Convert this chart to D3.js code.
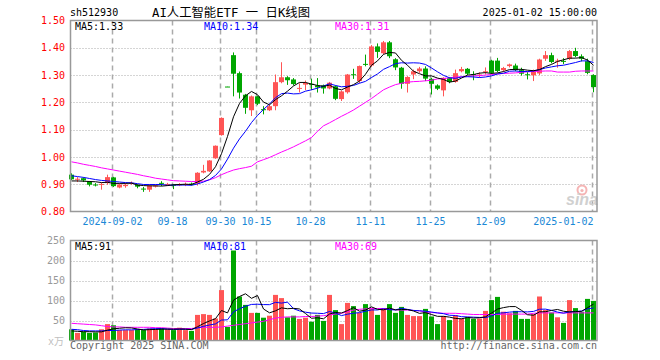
<!DOCTYPE html>
<html>
<head>
<meta charset="utf-8">
<script src="https://cdn.jsdelivr.net/npm/d3@7"></script>
<style>
  body { margin: 0; background: #fff; }
  text { font-family: "DejaVu Sans Mono", "Liberation Mono", monospace; font-size: 10px; }
</style>
</head>
<body>
<div id="chart"></div>
<script>
// trading days shown (2024-08-22 .. 2025-01-02)
var dates = ["2024-08-22","2024-08-23","2024-08-26","2024-08-27","2024-08-28","2024-08-29","2024-08-30",
  "2024-09-02","2024-09-03","2024-09-04","2024-09-05","2024-09-06","2024-09-09","2024-09-10","2024-09-11",
  "2024-09-12","2024-09-13","2024-09-18","2024-09-19","2024-09-20","2024-09-23","2024-09-24","2024-09-25",
  "2024-09-26","2024-09-27","2024-09-30","2024-10-08","2024-10-09","2024-10-10","2024-10-11","2024-10-14",
  "2024-10-15","2024-10-16","2024-10-17","2024-10-18","2024-10-21","2024-10-22","2024-10-23","2024-10-24",
  "2024-10-25","2024-10-28","2024-10-29","2024-10-30","2024-10-31","2024-11-01","2024-11-04","2024-11-05",
  "2024-11-06","2024-11-07","2024-11-08","2024-11-11","2024-11-12","2024-11-13","2024-11-14","2024-11-15",
  "2024-11-18","2024-11-19","2024-11-20","2024-11-21","2024-11-22","2024-11-25","2024-11-26","2024-11-27",
  "2024-11-28","2024-11-29","2024-12-02","2024-12-03","2024-12-04","2024-12-05","2024-12-06","2024-12-09",
  "2024-12-10","2024-12-11","2024-12-12","2024-12-13","2024-12-16","2024-12-17","2024-12-18","2024-12-19",
  "2024-12-20","2024-12-23","2024-12-24","2024-12-25","2024-12-26","2024-12-27","2024-12-30","2024-12-31",
  "2025-01-02"];

var open = [0.935,0.917,0.922,0.910,0.899,0.898,0.904,0.925,0.888,0.893,
  0.902,0.898,0.884,0.880,0.893,0.905,0.898,0.898,0.896,0.898,
  0.902,0.902,0.943,0.947,0.995,1.080,1.258,1.373,1.307,1.228,
  1.171,1.222,1.175,1.171,1.186,1.274,1.292,1.284,1.250,1.265,
  1.268,1.262,1.262,1.251,1.259,1.212,1.237,1.303,1.278,1.341,
  1.335,1.405,1.380,1.420,1.358,1.327,1.268,1.302,1.314,1.324,
  1.286,1.262,1.244,1.289,1.275,1.314,1.323,1.303,1.300,1.311,
  1.353,1.353,1.318,1.333,1.335,1.318,1.303,1.299,1.306,1.360,
  1.373,1.350,1.352,1.360,1.388,1.369,1.351,1.300];
var high = [0.940,0.926,0.925,0.912,0.904,0.906,0.935,0.927,0.903,0.904,
  0.910,0.900,0.890,0.900,0.898,0.911,0.905,0.899,0.904,0.906,
  0.906,0.944,0.971,0.988,1.042,1.145,1.258,1.383,1.313,1.231,
  1.225,1.224,1.186,1.192,1.302,1.347,1.296,1.289,1.270,1.280,
  1.287,1.289,1.265,1.275,1.262,1.243,1.304,1.323,1.335,1.375,
  1.410,1.416,1.425,1.425,1.362,1.330,1.296,1.320,1.330,1.332,
  1.290,1.266,1.292,1.293,1.320,1.330,1.326,1.314,1.310,1.328,
  1.356,1.363,1.330,1.342,1.342,1.327,1.311,1.320,1.360,1.388,
  1.382,1.360,1.362,1.392,1.400,1.376,1.360,1.303];
var low = [0.915,0.908,0.908,0.892,0.892,0.880,0.898,0.890,0.885,0.887,
  0.898,0.885,0.872,0.872,0.888,0.893,0.895,0.882,0.893,0.893,
  0.895,0.895,0.940,0.945,0.993,1.078,1.257,1.222,1.214,1.158,
  1.150,1.190,1.156,1.168,1.171,1.270,1.264,1.262,1.236,1.245,
  1.245,1.236,1.232,1.248,1.208,1.205,1.232,1.286,1.270,1.332,
  1.330,1.363,1.376,1.362,1.318,1.250,1.236,1.285,1.308,1.278,
  1.229,1.245,1.222,1.270,1.272,1.310,1.300,1.281,1.291,1.302,
  1.304,1.310,1.313,1.328,1.314,1.298,1.284,1.278,1.300,1.352,
  1.343,1.327,1.340,1.355,1.365,1.350,1.303,1.237];
var close = [0.918,0.920,0.914,0.898,0.897,0.901,0.926,0.893,0.899,0.898,
  0.905,0.891,0.882,0.895,0.895,0.903,0.901,0.896,0.900,0.901,
  0.899,0.942,0.949,0.987,1.041,1.143,1.257,1.305,1.236,1.180,
  1.222,1.195,1.172,1.186,1.274,1.292,1.281,1.267,1.253,1.271,
  1.265,1.255,1.251,1.272,1.213,1.240,1.302,1.300,1.333,1.338,
  1.405,1.385,1.420,1.369,1.328,1.268,1.293,1.314,1.324,1.287,
  1.268,1.250,1.290,1.275,1.307,1.322,1.305,1.300,1.302,1.314,
  1.308,1.315,1.326,1.339,1.318,1.305,1.301,1.317,1.357,1.373,
  1.348,1.353,1.350,1.388,1.370,1.360,1.308,1.256];

// volume, 万
var volume = [28,19,22,19,20,28,41,38,26,26,
  26,28,26,30,28,30,28,26,32,26,
  24,64,66,64,55,126,34,225,110,89,
  69,69,57,62,114,106,58,62,54,57,
  47,64,49,114,76,41,94,86,69,91,
  80,64,79,91,69,84,64,61,61,79,
  60,41,61,51,63,55,58,54,55,74,
  101,109,72,68,74,54,54,66,110,76,
  70,58,44,101,81,72,104,99];

// moving averages as drawn on the chart
var ma5 = [0.912,0.912,0.911,0.910,0.909,0.906,0.907,0.903,0.903,0.903,
  0.904,0.897,0.895,0.894,0.894,0.893,0.895,0.898,0.899,0.900,
  0.899,0.908,0.918,0.936,0.964,1.012,1.075,1.147,1.196,1.224,
  1.240,1.228,1.201,1.191,1.210,1.224,1.241,1.260,1.273,1.273,
  1.267,1.262,1.259,1.263,1.251,1.246,1.256,1.265,1.278,1.303,
  1.336,1.352,1.376,1.383,1.381,1.354,1.336,1.314,1.305,1.297,
  1.297,1.289,1.284,1.274,1.278,1.289,1.300,1.302,1.307,1.309,
  1.306,1.308,1.313,1.320,1.321,1.321,1.318,1.316,1.320,1.331,
  1.339,1.350,1.356,1.362,1.362,1.364,1.355,1.336];
var ma10 = [0.931,0.928,0.925,0.921,0.917,0.914,0.912,0.910,0.908,0.906,
  0.905,0.902,0.899,0.899,0.899,0.899,0.896,0.897,0.897,0.897,
  0.896,0.901,0.908,0.917,0.932,0.956,0.992,1.032,1.066,1.094,
  1.126,1.152,1.174,1.194,1.217,1.232,1.234,1.231,1.232,1.241,
  1.246,1.252,1.260,1.268,1.262,1.257,1.259,1.262,1.270,1.277,
  1.291,1.304,1.321,1.331,1.342,1.345,1.344,1.345,1.344,1.339,
  1.326,1.312,1.299,1.290,1.288,1.293,1.294,1.293,1.291,1.293,
  1.297,1.304,1.307,1.314,1.315,1.313,1.313,1.315,1.320,1.326,
  1.330,1.334,1.336,1.341,1.346,1.352,1.352,1.346];
var ma30 = [0.982,0.978,0.973,0.969,0.965,0.960,0.956,0.952,0.948,0.944,
  0.940,0.936,0.931,0.927,0.922,0.919,0.916,0.913,0.912,0.911,
  0.910,0.910,0.911,0.916,0.924,0.935,0.944,0.952,0.957,0.961,
  0.966,0.982,0.990,0.998,1.008,1.018,1.027,1.037,1.048,1.059,
  1.071,1.094,1.114,1.125,1.137,1.149,1.160,1.172,1.186,1.200,
  1.214,1.230,1.246,1.256,1.265,1.270,1.274,1.276,1.277,1.279,
  1.281,1.286,1.287,1.290,1.293,1.294,1.295,1.297,1.298,1.300,
  1.302,1.304,1.306,1.307,1.308,1.310,1.312,1.313,1.314,1.315,
  1.315,1.311,1.311,1.311,1.314,1.315,1.315,1.315];

var vma5 = [24,23,22,22,21.6,21.6,26,29.2,30.6,31.8,
  31.4,28.8,26.4,27.2,27.6,28.4,28.4,28.4,28.8,28.4,
  27.2,34.4,42.4,48.8,54.6,75,69,100.8,110,116.8,
  105.4,112.4,78.8,69.2,74.2,81.6,79.4,80.4,78.8,67.4,
  55.6,56.8,54.2,66.2,70,68.8,74.8,82.2,73.2,76.2,
  84,78,76.6,81,76.6,77.4,77.4,73.8,67.8,69.8,
  65,60.4,60.4,58.4,55.2,54.2,57.6,56.2,57,59.2,
  68.4,78.6,82.2,84.8,84.8,75.4,64.4,63.2,71.6,72,
  75.2,77.6,73.2,71.4,72.4,72.8,82,91];
var vma10 = [28,27,25,24,24,24,25,25,26,26.7,
  26.5,27.4,27.8,28.9,29.7,29.9,28.6,27.4,28,28,
  27.8,31.4,35.4,38.8,41.5,51.1,51.7,71.6,79.4,85.7,
  90.2,90.7,89.8,89.6,95.5,93.5,95.9,79.6,74,70.8,
  68.6,68.1,67.3,72.5,68.7,62.2,65.8,68.2,69.7,73.1,
  76.4,76.4,79.4,77.1,76.4,80.7,77.7,75.2,74.4,73.2,
  71.2,68.9,67.1,63.1,62.5,59.6,59,58.3,57.7,57.2,
  61.3,68.1,69.2,70.9,72,71.9,71.5,72.7,78.2,78.4,
  75.3,71,68.2,71.5,72.2,73.8,79.2,81.4];
var vma30 = [43,42,41,40,39,37,35,34,34,33,
  33,33,33,33,32,32,31,30,30,30,
  30,32,33,33,33,34,36,38,40,42,
  44,46,48,52,56,58,59,59,59,60,
  60,61,62,64,66,68,72,76,78,79,
  80,80,80,79,77,76,76,75,74,71,
  70,69,68,68,68,67,66,65,65,65,
  65,65,66,66,66,66,66,68,69,69,
  69,69,69,69,69,69,69,69];

var priceTicks = [0.80, 0.90, 1.00, 1.10, 1.20, 1.30, 1.40, 1.50];
var volTicks = [50, 100, 150, 200, 250];
var tickDates = ["2024-09-02","2024-09-18","2024-09-30","2024-10-15","2024-10-28","2024-11-11","2024-11-25","2024-12-09","2025-01-02"];
var tickLabels = ["2024-09-02","09-18","09-30","10-15","10-28","11-11","11-25","12-09","2025-01-02"];

var UP = "#ff5555", DOWN = "#00a600", GRID = "#aaaaaa";

var svg = d3.select("#chart").append("svg")
    .attr("width", 660)
    .attr("height", 360);

var left = 70.5, right = 597;
var x = d3.scaleBand().domain(d3.range(dates.length)).range([68.5, 68.5 + 6 * dates.length]);
var cx = function(i){ return x(i) + 3; };
var y = d3.scaleLinear().domain([0.8, 1.5]).range([211.5, 20.5]);
var yv = d3.scaleLinear().domain([0, 250]).range([340.5, 240.5]);

var tickIdx = tickDates.map(function(d){ return dates.indexOf(d); });

// ---- headers
svg.append("text").attr("x", 70).attr("y", 16).text("sh512930");
svg.append("text").attr("x", 152).attr("y", 17)
    .style("font-family", "'DejaVu Sans Mono', 'Noto Sans CJK SC', monospace")
    .style("font-size", "12px")
    .attr("textLength", 158).attr("lengthAdjust", "spacingAndGlyphs")
    .text("AI人工智能ETF 一 日K线图");
svg.append("text").attr("x", 597).attr("y", 16).attr("text-anchor", "end").text("2025-01-02 15:00:00");

// ---- panel backgrounds: grid lines
function panel(top, bottom, hTicks, scale) {
  var g = svg.append("g");
  g.selectAll("line.h").data(hTicks).enter().append("line")
      .attr("x1", left).attr("x2", right)
      .attr("y1", function(d){ return Math.round(scale(d)) + 0.5; })
      .attr("y2", function(d){ return Math.round(scale(d)) + 0.5; })
      .style("stroke", GRID).style("stroke-dasharray", "1,2");
  g.selectAll("line.v").data(tickIdx).enter().append("line")
      .attr("x1", function(i){ return cx(i) - 1; })
      .attr("x2", function(i){ return cx(i) - 1; })
      .attr("y1", top).attr("y2", bottom)
      .style("stroke", GRID).style("stroke-width", 1.5).style("stroke-dasharray", "5,4");
  return g;
}
panel(20.5, 211.5, priceTicks.slice(1, -1), y);
panel(240.5, 340.5, volTicks.slice(0, -1), yv);

// sina watermark
var wm = svg.append("g");
wm.append("circle").attr("cx", 582).attr("cy", 190).attr("r", 4.5)
    .style("fill", "none").style("stroke", "#f5b5b5").style("stroke-width", 2);
wm.append("circle").attr("cx", 582).attr("cy", 190.5).attr("r", 1.6).style("fill", "#f5b5b5");
wm.append("text").attr("x", 566).attr("y", 205)
    .style("font-family", "'Liberation Sans', Arial, sans-serif")
    .style("font-size", "16px").style("font-style", "italic").style("font-weight", "bold")
    .style("fill", "#d0d0d0").text("sina");

// ---- axes (labels only)
var yAxis = d3.axisLeft(y).tickValues(priceTicks).tickSize(0).tickPadding(5)
    .tickFormat(d3.format(".2f"));
svg.append("g").attr("transform", "translate(70,0)").call(yAxis)
    .call(function(g){ g.select(".domain").remove(); })
    .selectAll("text").style("fill", "#ff0000")
    .style("font-family", "'DejaVu Sans Mono', monospace").style("font-size", "10px");

var vAxis = d3.axisLeft(yv).tickValues(volTicks).tickSize(0).tickPadding(5);
svg.append("g").attr("transform", "translate(70,0)").call(vAxis)
    .call(function(g){ g.select(".domain").remove(); })
    .selectAll("text").style("fill", "#999999")
    .style("font-family", "'DejaVu Sans Mono', monospace").style("font-size", "10px");
svg.append("text").attr("x", 64).attr("y", 345).attr("text-anchor", "end")
    .style("fill", "#c0c0c0")
    .style("font-family", "'DejaVu Sans Mono', 'Noto Sans CJK SC', monospace")
    .text("x万");

svg.selectAll("text.date").data(tickIdx).enter().append("text")
    .attr("class", "date")
    .attr("x", function(i, k){ return k === tickIdx.length - 1 ? cx(i) : cx(i) - 1; })
    .attr("y", 225)
    .attr("text-anchor", function(i, k){ return k === tickIdx.length - 1 ? "end" : "middle"; })
    .style("fill", "#1a88d6")
    .text(function(i, k){ return tickLabels[k]; });

// ---- candles
var idx = d3.range(dates.length);
var colorOf = function(i){ return close[i] > open[i] ? UP : DOWN; };
var cg = svg.append("g");
cg.selectAll("line.wick").data(idx).enter().append("line")
    .attr("x1", cx).attr("x2", cx)
    .attr("y1", function(i){ return y(high[i]); })
    .attr("y2", function(i){ return y(low[i]); })
    .style("stroke", colorOf).style("stroke-width", 1);
cg.selectAll("rect.body").data(idx).enter().append("rect")
    .attr("x", function(i){ return x(i) + 0.5; })
    .attr("width", 5)
    .attr("y", function(i){ return Math.min(y(open[i]), y(close[i])); })
    .attr("height", function(i){ return Math.max(1, Math.abs(y(open[i]) - y(close[i]))); })
    .style("fill", colorOf);

// ---- volume bars
svg.append("g").selectAll("rect").data(idx).enter().append("rect")
    .attr("x", function(i){ return x(i) + 0.5; })
    .attr("width", 5)
    .attr("y", function(i){ return yv(volume[i]); })
    .attr("height", function(i){ return yv(0) - yv(volume[i]); })
    .style("fill", colorOf);

// ---- moving average lines
function maLine(vals, scale, color) {
  var line = d3.line().x(function(d, i){ return cx(i); }).y(function(d){ return scale(d); });
  svg.append("path").datum(vals).attr("d", line)
      .style("fill", "none").style("stroke", color).style("stroke-width", 1);
}
maLine(ma30, y, "#ff00ff");
maLine(ma10, y, "#0000ff");
maLine(ma5, y, "#000000");
maLine(vma30, yv, "#ff00ff");
maLine(vma10, yv, "#0000ff");
maLine(vma5, yv, "#000000");

// ---- frames
svg.append("rect").attr("x", left).attr("y", 20.5).attr("width", right - left).attr("height", 191)
    .style("fill", "none").style("stroke", "#999").style("stroke-width", 1.5);
svg.append("rect").attr("x", left).attr("y", 240.5).attr("width", right - left).attr("height", 100)
    .style("fill", "none").style("stroke", "#999").style("stroke-width", 1.5);

// ---- legends (values truncated like the source chart)
var last = dates.length - 1;
var trunc2 = function(v){ return (Math.floor(v * 100 + 1e-6) / 100).toFixed(2); };
function legend(yy, items) {
  items.forEach(function(it){
    svg.append("text").attr("x", it[0]).attr("y", yy).style("fill", it[2]).text(it[1]);
  });
}
legend(29.5, [[75, "MA5:" + trunc2(ma5[last]), "#000"],
              [204, "MA10:" + trunc2(ma10[last]), "#0000ff"],
              [335, "MA30:" + trunc2(ma30[last]), "#ff00ff"]]);
legend(249.5, [[75, "MA5:" + Math.floor(vma5[last]), "#000"],
               [204, "MA10:" + Math.floor(vma10[last]), "#0000ff"],
               [335, "MA30:" + Math.floor(vma30[last]), "#ff00ff"]]);

// ---- footers
svg.append("text").attr("x", 70).attr("y", 349).style("fill", "#666").text("Copyright 2025 SINA.COM");
svg.append("text").attr("x", 597).attr("y", 349).attr("text-anchor", "end").style("fill", "#666")
    .text("http://finance.sina.com.cn");
</script>
</body>
</html>
